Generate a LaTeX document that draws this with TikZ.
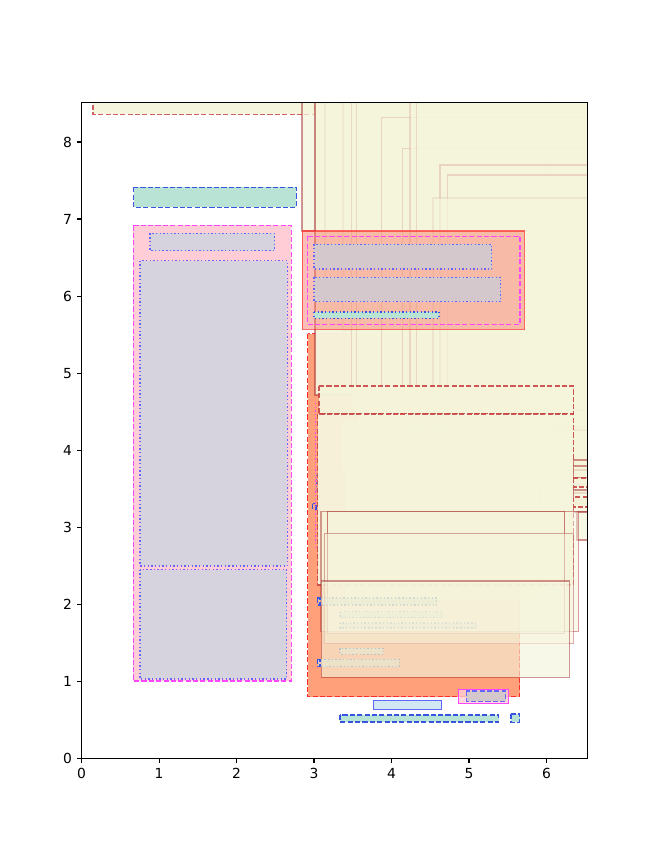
\documentclass[tikz,border=0pt]{standalone}
\usepackage{fontspec}
\setmainfont{DejaVu Sans}
\definecolor{beigec}{RGB}{245,245,220}
\definecolor{brownc}{RGB}{165,42,42}
\definecolor{dashred}{RGB}{200,70,70}
\definecolor{lsalmonc}{RGB}{255,160,122}
\definecolor{salmonc}{RGB}{250,128,114}
\definecolor{pinkc}{RGB}{255,205,213}
\definecolor{lavA}{RGB}{214,210,222}
\definecolor{lavB}{RGB}{212,200,205}
\definecolor{tealc}{RGB}{185,228,213}
\definecolor{lbluec}{RGB}{209,231,241}
\definecolor{bluedge}{RGB}{55,85,225}
\definecolor{dotblue}{RGB}{100,100,255}
\definecolor{magentac}{RGB}{255,70,255}
\definecolor{redc}{RGB}{255,45,45}
\definecolor{paleg}{RGB}{228,234,214}
\definecolor{grayedge}{RGB}{175,190,200}
\tikzset{
  mdash/.style={dash pattern=on 3.85pt off 1.67pt},
  mdot/.style={dash pattern=on 1.04pt off 1.72pt},
  bg/.style={fill=beigec, fill opacity=0.72, draw=brownc, draw opacity=#1, line width=1.04pt},
  bg/.default=0.3,
  bgdash/.style={fill=beigec, fill opacity=0.95, draw=dashred, draw opacity=0.9, mdash, line width=1.04pt},
  lavbox/.style={fill=#1, draw=dotblue, mdot, line width=1.04pt},
  tealbox/.style={fill=tealc, draw=bluedge, mdash, line width=1.04pt},
  faintbox/.style={fill=paleg, fill opacity=0.6, draw=grayedge, draw opacity=0.8, mdot, line width=1.04pt},
  tinyblue/.style={draw=bluedge, mdash, line width=1.04pt},
  axtick/.style={line width=0.83pt},
  ticklabel/.style={inner sep=0pt, font=\fontsize{10.4}{12}\selectfont},
}
\begin{document}
\begin{tikzpicture}[x=0.75pt,y=-0.75pt]
\useasboundingbox[fill=white] (0,0) rectangle (653,852);

% left column: pink panel with its inner boxes, teal bar above
\draw[fill=pinkc, draw=magentac, mdash, line width=1.04pt] (133.3,225.5) rectangle (291.3,681);
\draw[lavbox=lavA] (150,233.5) rectangle (274.7,250.5);
\draw[lavbox=lavA] (140,260.7) rectangle (287.3,566);
\draw[lavbox=lavA] (140,569.5) rectangle (286.5,679);
\draw[tealbox] (133.7,187.3) rectangle (296.3,207.3);

% large orange block
\draw[fill=lsalmonc, draw=redc, mdash, line width=1.04pt] (307.7,333.5) rectangle (519.7,696.7);

\begin{scope}
\clip (81.6,102.2) rectangle (587.7,758.3);
% band across the top left
\draw[fill=beigec, fill opacity=0.95, draw=dashred, draw opacity=0.85, mdash, line width=1.04pt] (93,90) rectangle (315,114.3);
% stacked beige boxes of the upper right
\draw[bg=0.5] (302,90) rectangle (600,231);
\draw[bg=0.55, fill opacity=0.95] (315,90) rectangle (551.7,395);
\foreach \a/\b/\c/\d/\o in {
  325/90/600/300/0.06,
  343/90/600/330/0.06,
  351.7/90/600/410/0.14,
  356.7/90/592/440/0.14,
  381.7/117.7/600/440/0.16,
  402.3/148.3/600/470/0.16,
  410/90/600/427/0.14,
  416.7/90/600/427/0.14,
  440/165/600/410/0.16,
  447.7/175/600/460/0.16,
  433/198/600/480/0.08,
  341.7/420/560/470/0.06,
  403/430/592/482/0.06,
  370/440/560/520/0.05,
  345/450/540/600/0.04}
  \draw[bg=\o] (\a,\b) rectangle (\c,\d);
% dashed pair in the middle
\draw[bgdash] (319,386) rectangle (573.3,414);
\draw[bgdash] (317.7,414) rectangle (573.3,585);
% thin strips at the right border
\foreach \a/\b/\c/\d in {
  573.3/460/600/470, 573.3/466/600/478, 573.3/484/600/493,
  573.3/490/600/500, 573.3/503/600/512, 577/512/600/540}
  \draw[bg=0.5] (\a,\b) rectangle (\c,\d);
\draw[bgdash] (573.3,478) rectangle (600,487);
\draw[bgdash] (573.3,497) rectangle (600,507);
% lower group of boxes
\draw[bg=0.45, fill opacity=0.5] (321,511.3) rectangle (578.3,631.3);
\draw[bg=0.6, fill opacity=0.5] (327.7,511.3) rectangle (564.3,633.3);
\draw[bg=0.4, fill opacity=0.5] (324.3,533.3) rectangle (573.3,643.3);
\draw[bg=0.5, fill opacity=0.62] (321.3,581) rectangle (569.3,677.3);
\end{scope}

% faint dotted strips inside the lower group
\draw[faintbox, draw opacity=0.3, fill opacity=0.25] (340,623) rectangle (476.7,628);
\draw[faintbox, draw opacity=0.35, fill opacity=0.3] (340,611.7) rectangle (441.7,617.7);
\draw[faintbox, draw opacity=0.45, fill opacity=0.4] (318.3,598) rectangle (436.7,605);
\draw[faintbox] (340,648.3) rectangle (383.3,654.3);
\draw[faintbox] (318.3,659.3) rectangle (399.3,666.7);
\draw[tinyblue] (317.3,598) rectangle (320,605);
\draw[tinyblue] (317.3,659.3) rectangle (320,666.7);
\draw[tinyblue] (312.7,503.5) rectangle (316,509);
\draw[draw=magentac, mdot, line width=1.04pt] (315.7,403) -- (315.7,550);
\draw[draw=dotblue, mdot, line width=1.04pt] (316.2,475) -- (316.2,490);

% salmon panel with its inner boxes
\draw[fill=salmonc, fill opacity=0.5, draw=redc, draw opacity=0.7, line width=1.04pt] (302.3,231) rectangle (524.3,329.3);
\draw[draw=magentac, mdash, line width=1.04pt] (307.3,236.3) rectangle (520,324.3);
\draw[lavbox=lavB] (314,244.3) rectangle (491.7,269);
\draw[lavbox=lavB] (314,277.3) rectangle (500.7,301.7);
\draw[fill=tealc, draw=bluedge, mdot, line width=1.04pt] (314,312) rectangle (439,318.3);

% small boxes along the bottom
\draw[fill=pinkc, fill opacity=0.8, draw=magentac, line width=1.04pt] (458.3,689.3) rectangle (508.3,703.3);
\draw[fill=lavB, draw=dotblue, mdash, line width=1.04pt] (466.3,691) rectangle (505.7,701.3);
\draw[fill=lbluec, draw=dotblue, line width=1.04pt] (373.3,700.3) rectangle (441.7,709.3);
\draw[tealbox] (340,715) rectangle (498.7,722);
\draw[tealbox] (511,714) rectangle (519.7,722.3);

% axes frame, ticks and tick labels
\draw[line width=0.83pt] (81.6,102.2) rectangle (587.7,758.3);
\foreach \i in {0,...,6}{
  \pgfmathsetmacro{\xp}{81.6+77.47*\i}
  \draw[axtick] (\xp,758.3) -- (\xp,763.2);
  \node[ticklabel, anchor=north] at (\xp,768) {\i};
}
\foreach \j in {0,...,8}{
  \pgfmathsetmacro{\yp}{758.3-77.04*\j}
  \draw[axtick] (81.6,\yp) -- (76.7,\yp);
  \node[ticklabel, anchor=east] at (72.2,\yp) {\j};
}
\end{tikzpicture}
\end{document}
